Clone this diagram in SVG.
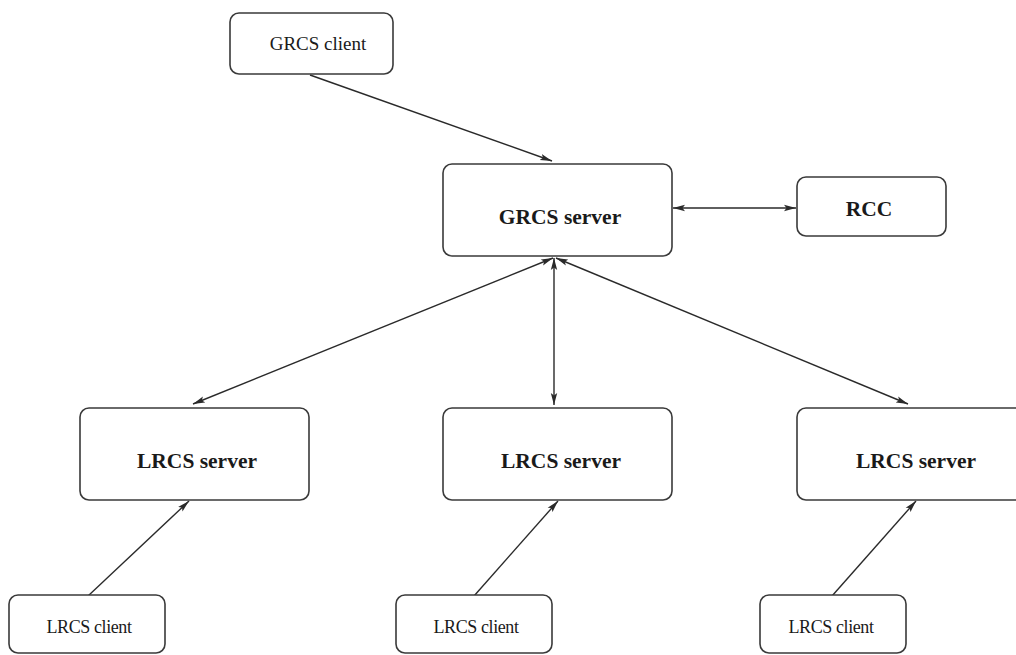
<svg xmlns="http://www.w3.org/2000/svg" width="1016" height="655" viewBox="0 0 1016 655">
  <style>
    .box { fill: #ffffff; stroke: #3a3a3a; stroke-width: 1.6; }
    .lbl { font-family: "Liberation Serif", "Times New Roman", serif; fill: #1a1a1a; text-anchor: middle; }
    .big { font-size: 21.5px; font-weight: bold; }
    .mid { font-size: 19px; }
    .small { font-size: 18px; letter-spacing: -0.4px; }
    .edge { stroke: #2a2a2a; stroke-width: 1.4; fill: none; }
  </style>
  <defs>
    <marker id="arrow" viewBox="0 0 12 8" refX="12" refY="4" markerWidth="12" markerHeight="8" markerUnits="userSpaceOnUse" orient="auto-start-reverse">
      <path d="M0,0.8 L12,4 L0,7.2 L2.5,4 Z" fill="#2a2a2a"/>
    </marker>
  </defs>
  <rect width="1016" height="655" fill="#ffffff"/>

  <g id="connectors">
    <line class="edge" x1="310" y1="75" x2="552" y2="161" marker-end="url(#arrow)"/>
    <line class="edge" x1="673" y1="208" x2="796" y2="208" marker-start="url(#arrow)" marker-end="url(#arrow)"/>
    <line class="edge" x1="553" y1="258" x2="193" y2="404" marker-start="url(#arrow)" marker-end="url(#arrow)"/>
    <line class="edge" x1="554" y1="258" x2="554" y2="405" marker-start="url(#arrow)" marker-end="url(#arrow)"/>
    <line class="edge" x1="556" y1="258" x2="908" y2="404" marker-start="url(#arrow)" marker-end="url(#arrow)"/>
    <line class="edge" x1="88" y1="596" x2="189" y2="501" marker-end="url(#arrow)"/>
    <line class="edge" x1="474" y1="596" x2="558" y2="501" marker-end="url(#arrow)"/>
    <line class="edge" x1="832" y1="596" x2="916" y2="501" marker-end="url(#arrow)"/>
  </g>

  <g id="grcs-client">
    <rect class="box" x="230" y="13" width="163" height="61" rx="9"/>
    <text class="lbl mid" x="318" y="50">GRCS client</text>
  </g>
  <g id="grcs-server">
    <rect class="box" x="443" y="164" width="229" height="92" rx="9"/>
    <text class="lbl big" x="560" y="224">GRCS server</text>
  </g>
  <g id="rcc">
    <rect class="box" x="797" y="177" width="149" height="59" rx="9"/>
    <text class="lbl big" x="869" y="216">RCC</text>
  </g>
  <g id="lrcs-server-1">
    <rect class="box" x="80" y="408" width="229" height="92" rx="9"/>
    <text class="lbl big" x="197" y="468">LRCS server</text>
  </g>
  <g id="lrcs-server-2">
    <rect class="box" x="443" y="408" width="229" height="92" rx="9"/>
    <text class="lbl big" x="561" y="468">LRCS server</text>
  </g>
  <g id="lrcs-server-3">
    <rect class="box" x="797" y="408" width="229" height="92" rx="9"/>
    <text class="lbl big" x="916" y="468">LRCS server</text>
  </g>
  <g id="lrcs-client-1">
    <rect class="box" x="9" y="595" width="156" height="58" rx="9"/>
    <text class="lbl small" x="89" y="633">LRCS client</text>
  </g>
  <g id="lrcs-client-2">
    <rect class="box" x="396" y="595" width="156" height="58" rx="9"/>
    <text class="lbl small" x="476" y="633">LRCS client</text>
  </g>
  <g id="lrcs-client-3">
    <rect class="box" x="760" y="595" width="146" height="58" rx="9"/>
    <text class="lbl small" x="831" y="633">LRCS client</text>
  </g>
</svg>
